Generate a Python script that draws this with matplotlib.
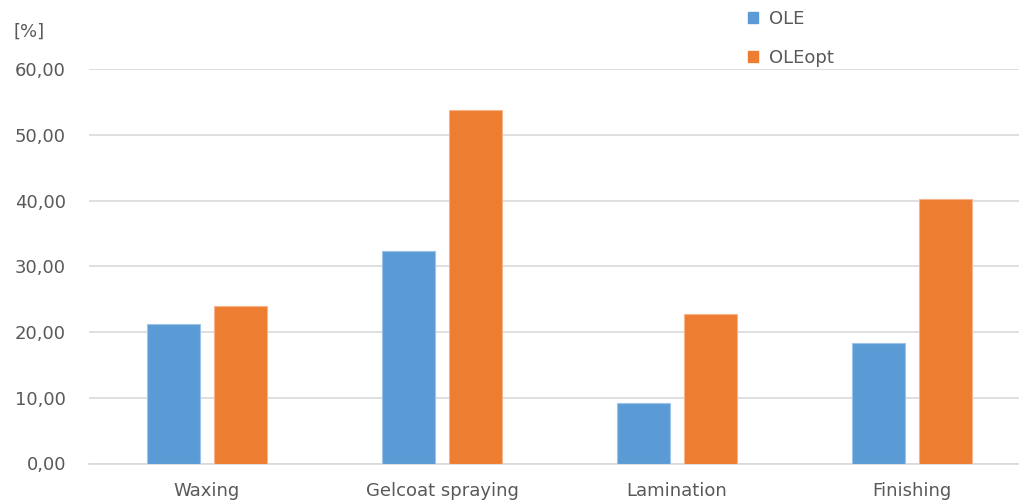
import matplotlib
matplotlib.use("Agg")
import matplotlib.pyplot as plt
import numpy as np
from matplotlib.patches import Patch

categories = ["Waxing", "Gelcoat spraying", "Lamination", "Finishing"]
ole = [21.2, 32.3, 9.15, 18.3]
ole_opt = [23.9, 53.8, 22.8, 40.3]
series_names = ["OLE", "OLEopt"]
yticks = [0, 10, 20, 30, 40, 50, 60]

plt.rcParams['font.family'] = ['DejaVu Sans']
W, H = 1020, 501
fig = plt.figure(figsize=(W/100, H/100), dpi=100)
left = 89.5 / W
bottom = (H - 463.5) / H
height = (463.5 - 69) / H
width = 940 / W
ax = fig.add_axes([left, bottom, width, height])

c1, c2 = "#5B9BD5", "#ED7D31"
x = np.arange(len(categories))
bw = 53 / 235
off = 33.5 / 235
ax.bar(x - off, ole, bw, color=c1, edgecolor="#9cc3e8", linewidth=0.8, zorder=3)
ax.bar(x + off, ole_opt, bw, color=c2, edgecolor="#f5b48a", linewidth=0.8, zorder=3)

ax.set_xlim(-0.5, 3.5)
ax.set_ylim(0, 60)
ax.set_yticks(yticks)
ax.set_yticklabels([f"{v:.2f}".replace(".", ",") for v in yticks])
ax.set_xticks(x)
ax.set_xticklabels(categories)
ax.yaxis.grid(True, color="#d9d9d9", linewidth=1.2, zorder=0)
ax.set_axisbelow(True)
for s in ["top", "right", "left"]:
    ax.spines[s].set_visible(False)
ax.spines["bottom"].set_color("#d9d9d9")
ax.spines["bottom"].set_linewidth(1.2)
ax.tick_params(axis="both", length=0, labelsize=13, colors="#595959")
ax.tick_params(axis="y", pad=17)
ax.tick_params(axis="x", pad=13)

fig.text(14 / W, 1 - 32 / H, "[%]", fontsize=13, color="#595959", va="center", ha="left")

handles = [Patch(color=c1), Patch(color=c2)]
leg = fig.legend(handles, series_names, loc="upper left",
                 bbox_to_anchor=(748 / W, 1 - 10 / H), frameon=False,
                 borderaxespad=0, borderpad=0,
                 fontsize=13, handlelength=0.55, handleheight=0.55,
                 handletextpad=0.6, labelspacing=1.15)
for t in leg.get_texts():
    t.set_color("#595959")

fig.savefig("out.png", dpi=100)
